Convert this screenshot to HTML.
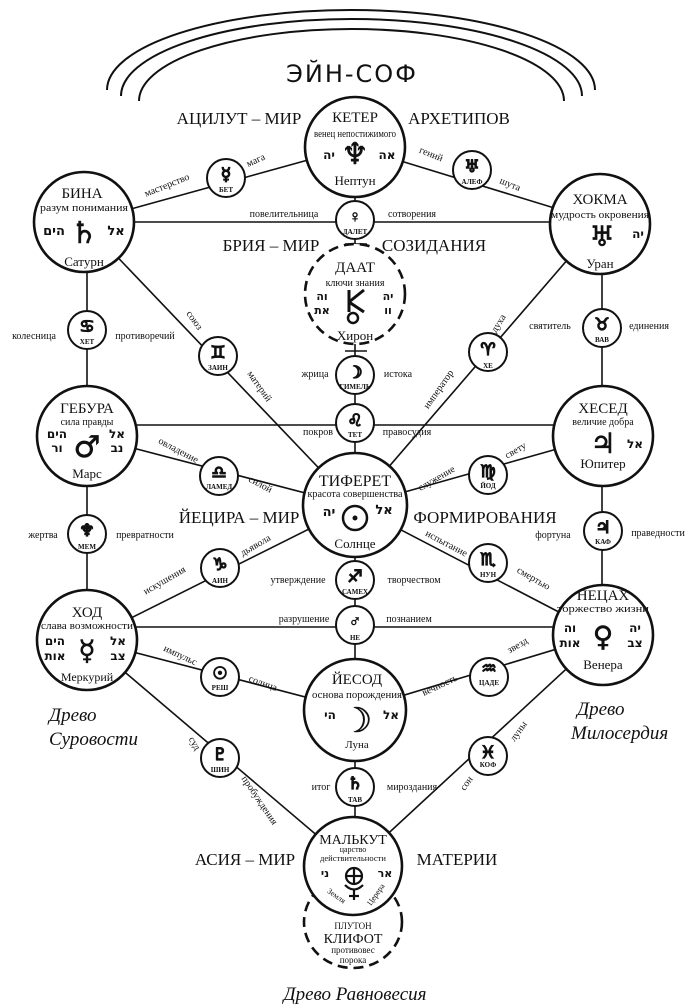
<!DOCTYPE html>
<html><head><meta charset="utf-8"><style>
html,body{margin:0;padding:0;background:#fff;}
svg{display:block;}
text{font-family:"Liberation Serif",serif;fill:#111;}
.h{font-family:"DejaVu Sans",sans-serif;font-weight:bold;}
.sy{font-family:"DejaVu Sans",sans-serif;font-weight:bold;fill:#111;stroke:#111;stroke-width:0.6;}
</style></head><body>
<svg width="694" height="1007" viewBox="0 0 694 1007" xmlns="http://www.w3.org/2000/svg">
<g fill="none" stroke="#111" stroke-width="2">
<path d="M107,90 A244,80 0 0 1 595,90"/>
<path d="M121,96 A230.5,77 0 0 1 582,96"/>
<path d="M139,101 A212.5,72 0 0 1 564,101"/>
</g>
<text x="352" y="82" text-anchor="middle" font-size="24" letter-spacing="2" style="font-family:'DejaVu Sans',sans-serif">ЭЙН-СОФ</text>

<g stroke="#111" stroke-width="1.6">
<line x1="84" y1="222" x2="355" y2="147"/>
<line x1="355" y1="147" x2="600" y2="222"/>
<line x1="84" y1="222" x2="600" y2="222"/>
<line x1="355" y1="147" x2="355" y2="506"/>
<line x1="87" y1="222" x2="87" y2="640"/>
<line x1="602" y1="222" x2="602" y2="635"/>
<line x1="84" y1="222" x2="355" y2="506"/>
<line x1="600" y1="222" x2="355" y2="506"/>
<line x1="87" y1="425" x2="603" y2="425"/>
<line x1="87" y1="436" x2="355" y2="506"/>
<line x1="603" y1="436" x2="355" y2="506"/>
<line x1="87" y1="640" x2="355" y2="506"/>
<line x1="603" y1="635" x2="355" y2="506"/>
<line x1="355" y1="506" x2="355" y2="866"/>
<line x1="87" y1="627" x2="603" y2="627"/>
<line x1="87" y1="640" x2="355" y2="710"/>
<line x1="603" y1="635" x2="355" y2="710"/>
<line x1="87" y1="640" x2="353" y2="866"/>
<line x1="603" y1="635" x2="353" y2="866"/>
<line x1="345" y1="244" x2="367" y2="244"/>
<line x1="345" y1="351" x2="367" y2="351"/>
</g>

<g fill="#fff" stroke="#111" stroke-width="2.6">
<circle cx="355" cy="147" r="50"/>
<circle cx="84" cy="222" r="50"/>
<circle cx="600" cy="224" r="50"/>
<circle cx="355" cy="294" r="50" stroke-dasharray="10,6"/>
<circle cx="87" cy="436" r="50"/>
<circle cx="603" cy="436" r="50"/>
<circle cx="355" cy="505" r="52"/>
<circle cx="87" cy="640" r="50"/>
<circle cx="603" cy="635" r="50"/>
<circle cx="355" cy="710" r="51"/>
<ellipse cx="353" cy="922" rx="49" ry="46" stroke-dasharray="10,6"/>
<circle cx="353" cy="866" r="49"/>
</g>
<g fill="#fff" stroke="#111" stroke-width="2">
<circle cx="226" cy="178" r="19"/><circle cx="472" cy="170" r="19"/>
<circle cx="355" cy="220" r="19"/><circle cx="87" cy="330" r="19"/>
<circle cx="602" cy="328" r="19"/><circle cx="218" cy="356" r="19"/>
<circle cx="355" cy="375" r="19"/><circle cx="488" cy="352" r="19"/>
<circle cx="355" cy="423" r="19"/><circle cx="219" cy="476" r="19"/>
<circle cx="488" cy="475" r="19"/><circle cx="87" cy="534" r="19"/>
<circle cx="603" cy="531" r="19"/><circle cx="220" cy="568" r="19"/>
<circle cx="488" cy="563" r="19"/><circle cx="355" cy="580" r="19"/>
<circle cx="355" cy="625" r="19"/><circle cx="220" cy="677" r="19"/>
<circle cx="489" cy="677" r="19"/><circle cx="220" cy="758" r="19"/>
<circle cx="488" cy="756" r="19"/><circle cx="355" cy="787" r="19"/>
</g>

<g font-size="17" text-anchor="middle">
<text x="239" y="124">АЦИЛУТ – МИР</text><text x="459" y="124">АРХЕТИПОВ</text>
<text x="271" y="251">БРИЯ – МИР</text><text x="434" y="251">СОЗИДАНИЯ</text>
<text x="239" y="523">ЙЕЦИРА – МИР</text><text x="485" y="523">ФОРМИРОВАНИЯ</text>
<text x="245" y="865">АСИЯ – МИР</text><text x="457" y="865">МАТЕРИИ</text>
</g>

<g text-anchor="middle">
<text x="355" y="122" font-size="15">КЕТЕР</text>
<text x="355" y="137" font-size="10" textLength="82" lengthAdjust="spacingAndGlyphs">венец непостижимого</text>
<text x="355" y="164" font-size="30" class="sy">♆&#xFE0E;</text>
<text x="329" y="159" font-size="12" class="h">יה</text><text x="387" y="159" font-size="12" class="h">אה</text>
<text x="355" y="185" font-size="13">Нептун</text>

<text x="82" y="198" font-size="15">БИНА</text>
<text x="84" y="211" font-size="10" textLength="88" lengthAdjust="spacingAndGlyphs">разум понимания</text>
<text x="84" y="243" font-size="30" class="sy">♄&#xFE0E;</text>
<text x="54" y="235" font-size="13" class="h">הים</text><text x="116" y="235" font-size="13" class="h">אל</text>
<text x="84" y="266" font-size="13">Сатурн</text>

<text x="600" y="204" font-size="15">ХОКМА</text>
<text x="600" y="218" font-size="10" textLength="98" lengthAdjust="spacingAndGlyphs">мудрость окровения</text>
<text x="602" y="246" font-size="28" class="sy">♅&#xFE0E;</text>
<text x="638" y="238" font-size="12" class="h">יה</text>
<text x="600" y="268" font-size="13">Уран</text>

<text x="355" y="272" font-size="15">ДААТ</text>
<text x="355" y="286" font-size="10">ключи знания</text>
<text x="322" y="300" font-size="11" class="h">וה</text><text x="322" y="314" font-size="11" class="h">את</text>
<text x="388" y="300" font-size="11" class="h">יה</text><text x="388" y="314" font-size="11" class="h">וו</text>
<g stroke="#111" stroke-width="3" fill="none"><line x1="349" y1="290" x2="349" y2="312"/><line x1="349" y1="302" x2="364" y2="290"/><line x1="349" y1="302" x2="364" y2="312"/><circle cx="353" cy="318" r="5" stroke-width="2.5"/></g>
<text x="355" y="340" font-size="13">Хирон</text>

<text x="87" y="413" font-size="15">ГЕБУРА</text>
<text x="87" y="425" font-size="10">сила правды</text>
<text x="87" y="457" font-size="30" class="sy">♂&#xFE0E;</text>
<text x="57" y="438" font-size="12" class="h">הים</text><text x="57" y="452" font-size="12" class="h">ור</text>
<text x="117" y="438" font-size="12" class="h">אל</text><text x="117" y="452" font-size="12" class="h">נב</text>
<text x="87" y="478" font-size="13">Марс</text>

<text x="603" y="413" font-size="15">ХЕСЕД</text>
<text x="603" y="425" font-size="10">величие добра</text>
<text x="603" y="453" font-size="28" class="sy">♃&#xFE0E;</text>
<text x="635" y="448" font-size="12" class="h">אל</text>
<text x="603" y="468" font-size="13">Юпитер</text>

<text x="355" y="486" font-size="16">ТИФЕРЕТ</text>
<text x="355" y="497" font-size="10" textLength="95" lengthAdjust="spacingAndGlyphs">красота совершенства</text>
<circle cx="355" cy="518" r="12" fill="none" stroke="#111" stroke-width="2.5"/><circle cx="355" cy="518" r="2.5" fill="#111"/>
<text x="329" y="516" font-size="13" class="h">יה</text><text x="384" y="514" font-size="13" class="h">אל</text>
<text x="355" y="548" font-size="13">Солнце</text>

<text x="87" y="617" font-size="15">ХОД</text>
<text x="87" y="629" font-size="10" textLength="92" lengthAdjust="spacingAndGlyphs">слава возможности</text>
<text x="87" y="660" font-size="28" class="sy">☿&#xFE0E;</text>
<text x="55" y="645" font-size="12" class="h">הים</text><text x="55" y="660" font-size="12" class="h">אות</text>
<text x="118" y="645" font-size="12" class="h">אל</text><text x="118" y="660" font-size="12" class="h">צב</text>
<text x="87" y="681" font-size="12">Меркурий</text>

<text x="603" y="600" font-size="15">НЕЦАХ</text>
<text x="603" y="612" font-size="10" textLength="92" lengthAdjust="spacingAndGlyphs">торжество жизни</text>
<text x="603" y="646" font-size="28" class="sy">♀&#xFE0E;</text>
<text x="570" y="632" font-size="12" class="h">וה</text><text x="570" y="647" font-size="12" class="h">אות</text>
<text x="635" y="632" font-size="12" class="h">יה</text><text x="635" y="647" font-size="12" class="h">צב</text>
<text x="603" y="669" font-size="13">Венера</text>

<text x="357" y="684" font-size="15">ЙЕСОД</text>
<text x="357" y="698" font-size="10" textLength="90" lengthAdjust="spacingAndGlyphs">основа порождения</text>
<text x="357" y="732" font-size="34" class="sy">☽&#xFE0E;</text>
<text x="330" y="719" font-size="12" class="h">הי</text><text x="391" y="719" font-size="12" class="h">אל</text>
<text x="357" y="748" font-size="11">Луна</text>

<text x="353" y="844" font-size="14">МАЛЬКУТ</text>
<text x="353" y="852" font-size="8">царство</text>
<text x="353" y="861" font-size="8" textLength="66" lengthAdjust="spacingAndGlyphs">действительности</text>
<text x="325" y="877" font-size="11" class="h">ני</text><text x="385" y="877" font-size="11" class="h">אר</text>
<g stroke="#111" stroke-width="2.2" fill="none"><circle cx="354" cy="876" r="8"/><line x1="346" y1="876" x2="362" y2="876"/><line x1="354" y1="868" x2="354" y2="884"/><path d="M345,885 Q354,894 363,885"/><line x1="354" y1="890" x2="354" y2="900"/><line x1="349" y1="896" x2="359" y2="896"/></g>
<text x="335" y="898" font-size="8" transform="rotate(35 335 898)">Земля</text>
<text x="378" y="896" font-size="8" transform="rotate(-55 378 896)">Церера</text>
<text x="353" y="929" font-size="9">ПЛУТОН</text>
<text x="353" y="943" font-size="14">КЛИФОТ</text>
<text x="353" y="953" font-size="9">противовес</text>
<text x="353" y="963" font-size="9">порока</text>
</g>

<g text-anchor="middle">
<g class="sy" font-size="17">
<text x="226" y="180">☿&#xFE0E;</text><text x="472" y="172">♅&#xFE0E;</text><text x="355" y="222">♀&#xFE0E;</text>
<text x="87" y="332">♋&#xFE0E;</text><text x="602" y="330">♉&#xFE0E;</text><text x="218" y="358">♊&#xFE0E;</text>
<text x="355" y="378">☽&#xFE0E;</text><text x="488" y="355">♈&#xFE0E;</text><text x="355" y="426">♌&#xFE0E;</text>
<text x="219" y="478">♎&#xFE0E;</text><text x="488" y="477">♍&#xFE0E;</text><text x="87" y="536">♆&#xFE0E;</text>
<text x="603" y="533">♃&#xFE0E;</text><text x="220" y="570">♑&#xFE0E;</text><text x="488" y="565">♏&#xFE0E;</text>
<text x="355" y="582">♐&#xFE0E;</text><text x="355" y="627">♂&#xFE0E;</text><text x="220" y="679">☉&#xFE0E;</text>
<text x="489" y="674">♒&#xFE0E;</text><text x="220" y="760">♇&#xFE0E;</text><text x="488" y="758">♓&#xFE0E;</text>
<text x="355" y="789">♄&#xFE0E;</text>
</g>
<g font-size="7" font-weight="bold">
<text x="226" y="192">БЕТ</text><text x="472" y="184">АЛЕФ</text><text x="355" y="234">ДАЛЕТ</text>
<text x="87" y="344">ХЕТ</text><text x="602" y="342">ВАВ</text><text x="218" y="370">ЗАИН</text>
<text x="355" y="389">ГИМЕЛЬ</text><text x="488" y="368">ХЕ</text><text x="355" y="437">ТЕТ</text>
<text x="219" y="489">ЛАМЕД</text><text x="488" y="488">ЙОД</text><text x="87" y="549">МЕМ</text>
<text x="603" y="544">КАФ</text><text x="220" y="583">АИН</text><text x="488" y="577">НУН</text>
<text x="355" y="594">САМЕХ</text><text x="355" y="640">НЕ</text><text x="220" y="690">РЕШ</text>
<text x="489" y="685">ЦАДЕ</text><text x="220" y="772">ШИН</text><text x="488" y="767">КОФ</text>
<text x="355" y="802">ТАВ</text>
</g>
</g>

<g font-size="10" text-anchor="middle">
<text x="257" y="163" transform="rotate(-25 257 163)">мага</text>
<text x="168" y="188" transform="rotate(-22 168 188)">мастерство</text>
<text x="430" y="157" transform="rotate(22 430 157)">гений</text>
<text x="509" y="187" transform="rotate(22 509 187)">шута</text>
<text x="284" y="217">повелительница</text><text x="412" y="217">сотворения</text>
<text x="34" y="339">колесница</text><text x="145" y="339">противоречий</text>
<text x="192" y="322" transform="rotate(55 192 322)">союз</text>
<text x="501" y="325" transform="rotate(-58 501 325)">духа</text>
<text x="550" y="329">святитель</text><text x="649" y="329">единения</text>
<text x="257" y="388" transform="rotate(55 257 388)">материй</text>
<text x="315" y="377">жрица</text><text x="398" y="377">истока</text>
<text x="441" y="391" transform="rotate(-55 441 391)">император</text>
<text x="318" y="435">покров</text><text x="407" y="435">правосудия</text>
<text x="177" y="453" transform="rotate(28 177 453)">овладение</text>
<text x="259" y="487" transform="rotate(28 259 487)">силой</text>
<text x="438" y="481" transform="rotate(-30 438 481)">служение</text>
<text x="517" y="453" transform="rotate(-30 517 453)">свету</text>
<text x="43" y="538">жертва</text><text x="145" y="538">превратности</text>
<text x="553" y="538">фортуна</text><text x="658" y="536">праведности</text>
<text x="257" y="548" transform="rotate(-30 257 548)">дьявола</text>
<text x="166" y="583" transform="rotate(-30 166 583)">искушения</text>
<text x="445" y="546" transform="rotate(28 445 546)">испытание</text>
<text x="532" y="581" transform="rotate(30 532 581)">смертью</text>
<text x="298" y="583">утверждение</text><text x="414" y="583">творчеством</text>
<text x="304" y="622">разрушение</text><text x="409" y="622">познанием</text>
<text x="179" y="658" transform="rotate(25 179 658)">импульс</text>
<text x="519" y="648" transform="rotate(-30 519 648)">звезд</text>
<text x="262" y="686" transform="rotate(20 262 686)">солнца</text>
<text x="441" y="688" transform="rotate(-25 441 688)">вечность</text>
<text x="192" y="745" transform="rotate(60 192 745)">суд</text>
<text x="257" y="802" transform="rotate(56 257 802)">пробуждения</text>
<text x="521" y="733" transform="rotate(-55 521 733)">луны</text>
<text x="469" y="785" transform="rotate(-55 469 785)">сон</text>
<text x="321" y="790">итог</text><text x="412" y="790">мироздания</text>
</g>

<g font-size="19" font-style="italic">
<text x="49" y="721">Древо</text><text x="49" y="745">Суровости</text>
<text x="577" y="715">Древо</text><text x="571" y="739">Милосердия</text>
<text x="355" y="1000" text-anchor="middle">Древо Равновесия</text>
</g>
</svg>
</body></html>
